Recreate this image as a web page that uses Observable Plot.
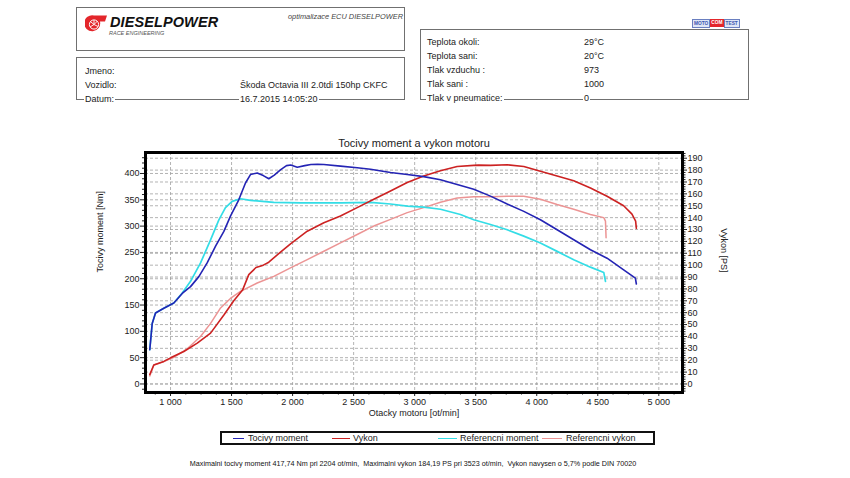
<!DOCTYPE html>
<html><head><meta charset="utf-8">
<script src="https://cdn.jsdelivr.net/npm/d3@7"></script>
<script src="https://cdn.jsdelivr.net/npm/@observablehq/plot@0.6"></script>
<style>
body{margin:0;background:#fff;font-family:"Liberation Sans",Arial,sans-serif;}
#wrap{position:relative;width:850px;height:478px;overflow:hidden;background:#fff;}
#chart{position:absolute;left:0;top:0;}
.abs{position:absolute;white-space:nowrap;}
.box{position:absolute;border:1px solid #707070;box-sizing:border-box;}
.t9{font-size:9px;color:#222;line-height:11px;}
.wb{background:#fff;padding:0 1px;}
.leg{position:absolute;top:431px;left:220px;width:435px;height:14px;border:2px solid #111;box-sizing:border-box;background:#fff;}
.lg-line{position:absolute;top:5px;height:0;border-top:1.5px solid;}
.lg-txt{position:absolute;top:0px;font-size:9px;line-height:10px;color:#222;white-space:nowrap;}
</style></head><body><div id="wrap"><div id="chart"></div></div>
<script>
// ---- header texts ----
const brand = "DIESELPOWER";
const brandSub = "RACE ENGINEERING";
const brandNote = "optimalizace ECU DIESELPOWER";
const infoLabels = ["Jmeno:", "Vozidlo:", "Datum:"];
const infoValues = ["", "Škoda Octavia III 2.0tdi 150hp CKFC", "16.7.2015 14:05:20"];
const condLabels = ["Teplota okoli:", "Teplota sani:", "Tlak vzduchu :", "Tlak sani :", "Tlak v pneumatice:"];
const condValues = ["29°C", "20°C", "973", "1000", "0"];

// ---- chart texts ----
const chartTitle = "Tocivy moment a vykon motoru";
const xLabel = "Otacky motoru [ot/min]";
const yLeftLabel = "Tocivy moment [Nm]";
const yRightLabel = "Vykon [PS]";
const seriesNames = ["Tocivy moment", "Vykon", "Referencni moment", "Referencni vykon"];
const seriesColors = ["#2424b4", "#cc2222", "#33dde6", "#ec9494"];
const footer = "Maximalni tocivy moment 417,74 Nm pri 2204 ot/min,  Maximalni vykon 184,19 PS pri 3523 ot/min,  Vykon navysen o 5,7% podle DIN 70020";

// ---- ticks ----
const xTicks = [1000, 1500, 2000, 2500, 3000, 3500, 4000, 4500, 5000];
const xMinor = [875, 1125, 1250, 1375, 1625, 1750, 1875, 2125, 2250, 2375, 2625, 2750, 2875, 3125, 3250, 3375, 3625, 3750, 3875, 4125, 4250, 4375, 4625, 4750, 4875, 5125];
const nmTicks = [0, 50, 100, 150, 200, 250, 300, 350, 400];
const nmMinor = [-10, 10, 20, 30, 40, 60, 70, 80, 90, 110, 120, 130, 140, 160, 170, 180, 190, 210, 220, 230, 240, 260, 270, 280, 290, 310, 320, 330, 340, 360, 370, 380, 390, 410, 420, 430];
const psTicks = [0, 10, 20, 30, 40, 50, 60, 70, 80, 90, 100, 110, 120, 130, 140, 150, 160, 170, 180, 190];
const psMinor = [-6, -4, -2, 2, 4, 6, 8, 12, 14, 16, 18, 22, 24, 26, 28, 32, 34, 36, 38, 42, 44, 46, 48, 52, 54, 56, 58, 62, 64, 66, 68, 72, 74, 76, 78, 82, 84, 86, 88, 92, 94, 96, 98, 102, 104, 106, 108, 112, 114, 116, 118, 122, 124, 126, 128, 132, 134, 136, 138, 142, 144, 146, 148, 152, 154, 156, 158, 162, 164, 166, 168, 172, 174, 176, 178, 182, 184, 186, 188, 192, 194];

// ---- series ----
const torqueRpm = [830, 850, 877, 945, 1027, 1096, 1164, 1232, 1300, 1369, 1437, 1491, 1559, 1614, 1655, 1710, 1760, 1805, 1850, 1900, 1950, 1985, 2038, 2100, 2150, 2204, 2256, 2392, 2529, 2638, 2802, 2939, 3074, 3211, 3348, 3484, 3621, 3758, 3894, 4030, 4167, 4303, 4440, 4576, 4712, 4808, 4816];
const torqueNm  = [65, 115, 135, 144, 154, 172, 185, 204, 230, 262, 290, 319, 350, 382, 398, 401, 396, 390, 397, 407, 415, 416, 412, 415, 417, 417.7, 417, 414, 411, 408, 402, 398, 394, 388, 379, 370, 357, 342, 328, 312, 293, 274, 255, 239, 217, 201, 190];

const powerRpm = [830, 863, 945, 1000, 1109, 1219, 1328, 1437, 1518, 1590, 1641, 1700, 1760, 1805, 1901, 1983, 2120, 2256, 2392, 2529, 2665, 2802, 2939, 3074, 3211, 3348, 3484, 3523, 3621, 3758, 3894, 4030, 4167, 4303, 4440, 4576, 4712, 4780, 4810, 4816];
const powerPS  = [8, 16, 19, 22, 27.3, 34.4, 42.8, 58, 70, 79, 92, 98, 100, 102.5, 111, 118, 128.6, 135.7, 141.3, 148.4, 155.4, 162.4, 169.5, 175, 179.5, 183, 184, 184.2, 184, 184.5, 183, 179, 175, 171, 165, 158, 150, 143, 137, 131];

const refTorqueRpm = [830, 850, 877, 945, 1027, 1096, 1164, 1246, 1328, 1396, 1450, 1505, 1573, 1655, 1846, 2065, 2400, 2638, 2802, 2939, 3074, 3211, 3375, 3484, 3621, 3758, 3894, 4030, 4167, 4303, 4440, 4549, 4563];
const refTorqueNm  = [65, 115, 135, 144, 154, 173, 195, 230, 274, 312, 335, 347, 352, 349, 345, 344, 344, 345, 342, 338, 336, 332, 322, 312, 303, 293, 281, 268, 252, 236, 222, 212, 195];

const refPowerRpm = [830, 863, 945, 1027, 1137, 1246, 1328, 1410, 1491, 1573, 1710, 1846, 1983, 2120, 2256, 2392, 2529, 2665, 2802, 2939, 3074, 3211, 3348, 3484, 3621, 3758, 3894, 4030, 4167, 4303, 4440, 4549, 4563, 4568];
const refPowerPS  = [6.8, 16, 18.8, 22.5, 29.6, 40, 51, 64, 72, 78, 85, 90.6, 97.7, 104.7, 111.7, 118.8, 125.8, 132.9, 138.5, 144.2, 148.4, 153, 156.5, 157.5, 157.5, 158, 158, 155.4, 151, 147, 142.7, 140, 137, 123];

// PS plotted on the Nm scale: 1 PS = K Nm-units on screen
const K = 2.258;

const toRows = (xs, ys, f = 1) => xs.map((x, i) => ({rpm: x, v: ys[i] * f}));
const fmtX = d => `${Math.floor(d / 1000)} ${String(d % 1000).padStart(3, "0")}`;
const gridStyle = {stroke: "#a0a0a0", strokeOpacity: 1, strokeDasharray: "3,2", strokeWidth: 0.8};

const chart = Plot.plot({
  width: 850, height: 478,
  marginLeft: 145, marginRight: 168, marginTop: 152, marginBottom: 86,
  x: {domain: [795, 5194]},
  y: {domain: [-16.2, 439.9]},
  style: {fontFamily: '"Liberation Sans", Arial, sans-serif', fontSize: "9px", color: "#222", background: "transparent"},
  marks: [
    Plot.gridX(xTicks, gridStyle),
    Plot.gridY(nmTicks, gridStyle),
    Plot.gridY(psTicks.map(v => v * K), gridStyle),
    Plot.line(toRows(refPowerRpm, refPowerPS, K), {x: "rpm", y: "v", stroke: seriesColors[3], strokeWidth: 1.5}),
    Plot.line(toRows(refTorqueRpm, refTorqueNm), {x: "rpm", y: "v", stroke: seriesColors[2], strokeWidth: 1.7}),
    Plot.line(toRows(powerRpm, powerPS, K), {x: "rpm", y: "v", stroke: seriesColors[1], strokeWidth: 1.6}),
    Plot.line(toRows(torqueRpm, torqueNm), {x: "rpm", y: "v", stroke: seriesColors[0], strokeWidth: 1.6}),
    Plot.axisX(xTicks, {tickSize: 4, tickPadding: 2, tickFormat: fmtX, label: null, fontSize: 9}),
    Plot.axisX(xMinor, {tickSize: 2.5, tickFormat: () => "", label: null}),
    Plot.axisY(nmTicks, {anchor: "left", tickSize: 5, tickPadding: 1, label: null, fontSize: 9}),
    Plot.axisY(nmMinor, {anchor: "left", tickSize: 3, tickFormat: () => "", label: null}),
    Plot.axisY(psTicks.map(v => v * K), {anchor: "right", tickSize: 4, tickPadding: 1, tickFormat: d => Math.round(d / K), label: null, fontSize: 9}),
    Plot.axisY(psMinor.map(v => v * K), {anchor: "right", tickSize: 2.5, tickFormat: () => "", label: null}),
    Plot.frame({stroke: "#000", strokeWidth: 3}),
    Plot.text([chartTitle], {text: d => d, frameAnchor: "top", lineAnchor: "middle", dy: -9, fontSize: 11}),
    Plot.text([xLabel], {text: d => d, frameAnchor: "bottom", lineAnchor: "middle", dy: 21, fontSize: 9}),
    Plot.text([yLeftLabel], {text: d => d, frameAnchor: "left", dx: -45, rotate: -90, fontSize: 9}),
    Plot.text([yRightLabel], {text: d => d, frameAnchor: "right", dx: 41, rotate: 90, fontSize: 9})
  ]
});
document.getElementById("chart").appendChild(chart);

// ---- header & legend (HTML) ----
const wrap = document.getElementById("wrap");
function add(html) { wrap.insertAdjacentHTML("beforeend", html); }

add(`<div class="box" style="left:76px;top:7px;width:329px;height:44px;"></div>`);
add(`<svg class="abs" style="left:85px;top:14px" width="24" height="21" viewBox="0 0 24 20">
  <path d="M9 1 L22 1 L20 7 L15 7 A8 8 0 1 1 9 1 Z" fill="#e3262b"/>
  <circle cx="9" cy="10" r="4.6" fill="none" stroke="#fff" stroke-width="1"/>
  <path d="M9 10 L9 5.6 M9 10 L13 12 M9 10 L5 12.5 M9 10 L12.5 6.5 M9 10 L5.2 7" stroke="#fff" stroke-width="0.9"/>
</svg>`);
add(`<div class="abs" style="left:110px;top:14px;font-size:14.5px;font-weight:bold;font-style:italic;color:#111;letter-spacing:0.1px;line-height:16px;transform:scaleX(1.0);transform-origin:left;">${brand}</div>`);
add(`<div class="abs" style="left:109px;top:30px;font-size:5.5px;font-style:italic;color:#555;line-height:6px;">${brandSub}</div>`);
add(`<div class="abs" style="left:288px;top:12px;font-size:7.4px;font-style:italic;color:#444;line-height:10px;">${brandNote}</div>`);

add(`<div class="box" style="left:76px;top:57px;width:329px;height:43px;"></div>`);
const infoY = [71, 85.5, 99.5];
infoLabels.forEach((l, i) => add(`<div class="abs t9 wb" style="left:84px;top:${infoY[i] - 5.5}px;">${l}</div>`));
infoValues.forEach((v, i) => { if (v) add(`<div class="abs t9 wb" style="left:239px;top:${infoY[i] - 5.5}px;">${v}</div>`); });

add(`<div class="box" style="left:420px;top:29px;width:329px;height:71px;"></div>`);
const condY = [42.5, 56.5, 70.5, 84.5, 98.5];
condLabels.forEach((l, i) => add(`<div class="abs t9 wb" style="left:426px;top:${condY[i] - 5.5}px;">${l}</div>`));
condValues.forEach((v, i) => add(`<div class="abs t9 wb" style="left:583px;top:${condY[i] - 5.5}px;">${v}</div>`));

add(`<div class="abs" style="left:692px;top:19px;height:8px;font-size:4.8px;line-height:8px;font-weight:bold;font-family:'Liberation Sans',Arial,sans-serif;">
<span style="display:inline-block;background:#dfe6f5;color:#3b56b0;border:0.5px solid #6a7fc0;padding:0 1px;height:7px;line-height:7px;vertical-align:top;">MOTO</span><span style="display:inline-block;background:#e3262b;color:#fff;padding:0 1px;height:8px;line-height:8px;vertical-align:top;margin-top:-0.5px;">COM</span><span style="display:inline-block;background:#dfe6f5;color:#3b56b0;border:0.5px solid #6a7fc0;padding:0 1px;height:7px;line-height:7px;vertical-align:top;">TEST</span></div>`);

// legend
const legPos = [[11, 22, 26], [110, 128, 131], [216, 235, 238], [320, 340, 344]];
let legHtml = `<div class="leg">`;
seriesNames.forEach((n, i) => {
  const [a, b, t] = legPos[i];
  legHtml += `<div class="lg-line" style="left:${a}px;width:${b - a}px;border-color:${seriesColors[i]}"></div><div class="lg-txt" style="left:${t}px">${n}</div>`;
});
legHtml += `</div>`;
add(legHtml);

add(`<div class="abs" style="left:0;width:826px;top:459px;text-align:center;font-size:7.2px;line-height:9px;color:#111;white-space:pre;">${footer}</div>`);
</script>
</body></html>
